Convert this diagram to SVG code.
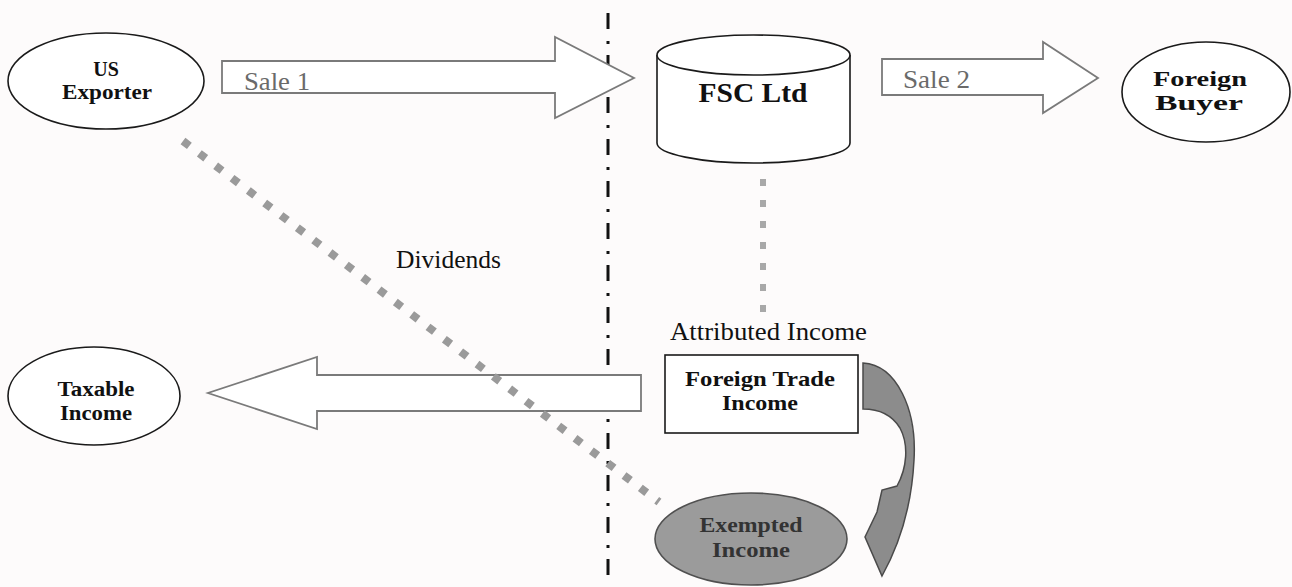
<svg xmlns="http://www.w3.org/2000/svg" width="1292" height="587" viewBox="0 0 1292 587">
<style>
.node{fill:#ffffff;stroke:#1a1a1a;stroke-width:1.6}
.lbl{font-family:"Liberation Serif","Times New Roman",serif;font-weight:bold;fill:#111;text-anchor:middle}
.plain{font-family:"Liberation Serif","Times New Roman",serif;fill:#111}
.fat{fill:#ffffff;stroke:#7a7a7a;stroke-width:1.8}
.grey{fill:#6a6a6a}
</style>
<rect x="0" y="0" width="1292" height="587" fill="#fdfbfb"/>

<g id="connectors">
  <line id="border-line" x1="608" y1="13" x2="608" y2="587" stroke="#111" stroke-width="3" stroke-dasharray="16 12 3 11"/>
  <g id="sale1">
    <polygon class="fat" points="222,61 555,61 555,37 634,78 555,118 555,93 222,93"/>
    <text class="plain grey" x="244" y="90" font-size="25" textLength="66" lengthAdjust="spacingAndGlyphs">Sale 1</text>
  </g>
  <g id="sale2">
    <polygon class="fat" points="882,59 1043,59 1043,42 1098,78 1043,113 1043,95 882,95"/>
    <text class="plain grey" x="903" y="88" font-size="25" textLength="67" lengthAdjust="spacingAndGlyphs">Sale 2</text>
  </g>
  <g id="taxable-arrow">
    <polygon class="fat" points="641,375 317,375 317,357 208,393 317,429 317,411 641,411"/>
  </g>
  <g id="dividends">
    <line x1="183" y1="141" x2="659" y2="502" stroke="#9a9a9a" stroke-width="8" stroke-dasharray="8 12.5"/>
    <text class="plain" x="396" y="268" font-size="25" textLength="105" lengthAdjust="spacingAndGlyphs">Dividends</text>
  </g>
  <g id="attributed">
    <line x1="763" y1="179" x2="763" y2="312" stroke="#a8a8a8" stroke-width="6" stroke-dasharray="7 14"/>
    <text class="plain" x="670" y="340" font-size="25" textLength="197" lengthAdjust="spacingAndGlyphs">Attributed Income</text>
  </g>
  <g id="curved-arrow">
    <path d="M863,363 C897,365 917,410 914,460 C912,500 902,540 882,576 L865,537 L877,512 L882,490 L897,486 C907,468 909,445 900,428 C892,415 880,409 863,409 Z" fill="#8c8c8c" stroke="#4a4a4a" stroke-width="1.5"/>
  </g>
</g>

<g id="us-exporter">
  <ellipse class="node" cx="106" cy="81" rx="98" ry="48"/>
  <text class="lbl" x="106" y="76" font-size="20">US</text>
  <text class="lbl" x="107" y="99" font-size="20" textLength="90" lengthAdjust="spacingAndGlyphs">Exporter</text>
</g>

<g id="fsc-ltd">
  <path class="node" d="M657,55 V143 A96.5,20 0 0 0 850,143 V55"/>
  <ellipse class="node" cx="753.5" cy="55" rx="96.5" ry="20"/>
  <text class="lbl" x="753" y="102" font-size="28" textLength="109" lengthAdjust="spacingAndGlyphs">FSC Ltd</text>
</g>

<g id="foreign-buyer">
  <ellipse class="node" cx="1206" cy="92" rx="84" ry="50"/>
  <text class="lbl" x="1200" y="86" font-size="21" textLength="94" lengthAdjust="spacingAndGlyphs">Foreign</text>
  <text class="lbl" x="1199" y="110" font-size="21" textLength="88" lengthAdjust="spacingAndGlyphs">Buyer</text>
</g>

<g id="taxable-income">
  <ellipse class="node" cx="94" cy="396" rx="86" ry="49"/>
  <text class="lbl" x="96" y="396" font-size="20" textLength="77" lengthAdjust="spacingAndGlyphs">Taxable</text>
  <text class="lbl" x="96" y="420" font-size="20" textLength="72" lengthAdjust="spacingAndGlyphs">Income</text>
</g>

<g id="foreign-trade-income">
  <rect class="node" x="665" y="355" width="193" height="78" stroke-width="2"/>
  <text class="lbl" x="760" y="386" font-size="21" textLength="150" lengthAdjust="spacingAndGlyphs">Foreign Trade</text>
  <text class="lbl" x="760" y="410" font-size="21" textLength="76" lengthAdjust="spacingAndGlyphs">Income</text>
</g>

<g id="exempted-income">
  <ellipse cx="751" cy="539" rx="96" ry="46" fill="#9b9b9b" stroke="#505050" stroke-width="1.6"/>
  <text class="lbl" x="751" y="532" font-size="20" style="fill:#333" textLength="103" lengthAdjust="spacingAndGlyphs">Exempted</text>
  <text class="lbl" x="751" y="557" font-size="20" style="fill:#333" textLength="78" lengthAdjust="spacingAndGlyphs">Income</text>
</g>
</svg>
